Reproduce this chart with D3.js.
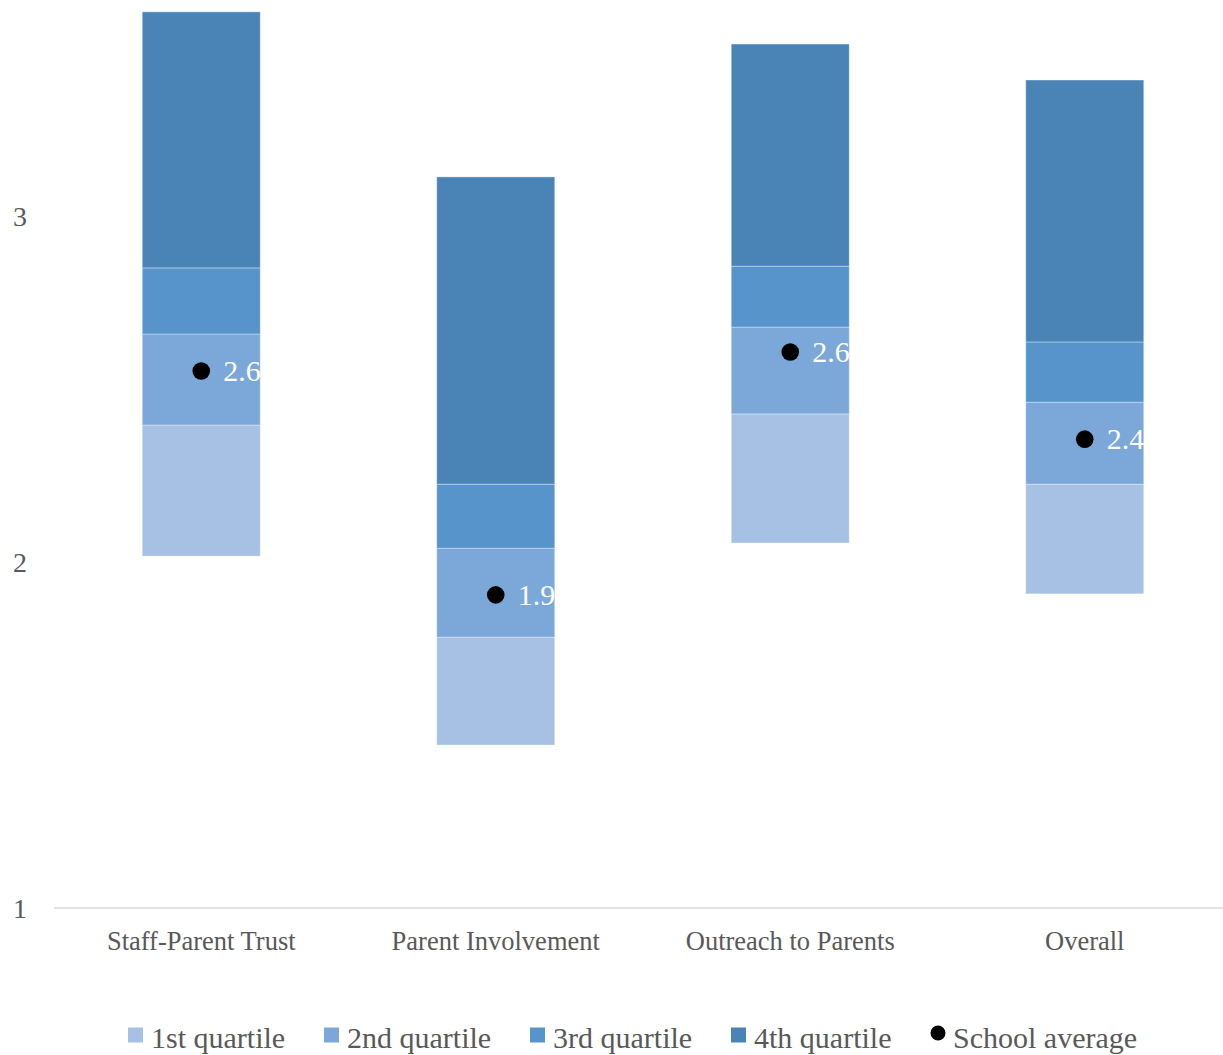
<!DOCTYPE html>
<html>
<head>
<meta charset="utf-8">
<script src="https://cdn.jsdelivr.net/npm/d3@7"></script>
<style>
  body { margin: 0; background: #fff; }
</style>
</head>
<body>
<svg id="chart" width="1223" height="1055" font-family="'Liberation Serif', 'DejaVu Serif', serif"></svg>
<script>
const categories = ["Staff-Parent Trust", "Parent Involvement", "Outreach to Parents", "Overall"];
// bottom of each floating bar (minimum) and the four quartile tops
const minimum = [2.017, 1.471, 2.055, 1.908];
const q1Top = [2.396, 1.783, 2.428, 2.225];
const q2Top = [2.659, 2.040, 2.679, 2.462];
const q3Top = [2.850, 2.225, 2.855, 2.636];
const q4Top = [3.590, 3.113, 3.497, 3.393];
const schoolAvg = [2.552, 1.905, 2.607, 2.355];
const avgLabels = ["2.6", "1.9", "2.6", "2.4"];
const yTicks = [1, 2, 3];
const seriesNames = ["1st quartile", "2nd quartile", "3rd quartile", "4th quartile"];
const colors = ["#a6c1e4", "#7ba8d9", "#5694cb", "#4a84b7"];

const svg = d3.select("#chart");

const x = d3.scaleBand()
  .domain(categories)
  .range([54, 1232]);

const y = d3.scaleLinear()
  .domain([1, 3.6])
  .range([908, 908 - 2.6 * 346]);

const barW = 118;

svg.append("line")
  .attr("x1", 54).attr("x2", 1223)
  .attr("y1", y(1)).attr("y2", y(1))
  .attr("stroke", "#d9d9d9").attr("stroke-width", 1.5);

svg.selectAll(".ytick")
  .data(yTicks)
  .enter().append("text")
  .attr("x", 20)
  .attr("y", d => y(d) + 10)
  .attr("text-anchor", "middle")
  .attr("font-size", 28)
  .attr("fill", "#595959")
  .text(d => d);

svg.selectAll(".xlab")
  .data(categories)
  .enter().append("text")
  .attr("x", d => x(d) + x.bandwidth() / 2)
  .attr("y", 950)
  .attr("text-anchor", "middle")
  .attr("font-size", 26.5)
  .attr("fill", "#595959")
  .text(d => d);

const bounds = [minimum, q1Top, q2Top, q3Top, q4Top];
seriesNames.forEach((name, s) => {
  svg.selectAll(".seg" + s)
    .data(categories)
    .enter().append("rect")
    .attr("x", d => x(d) + x.bandwidth() / 2 - barW / 2)
    .attr("width", barW)
    .attr("y", (d, i) => y(bounds[s + 1][i]))
    .attr("height", (d, i) => y(bounds[s][i]) - y(bounds[s + 1][i]))
    .attr("fill", colors[s])
    .attr("stroke", "rgba(255,255,255,0.35)")
    .attr("stroke-width", 1);
});

svg.selectAll(".dot")
  .data(categories)
  .enter().append("circle")
  .attr("cx", d => x(d) + x.bandwidth() / 2)
  .attr("cy", (d, i) => y(schoolAvg[i]))
  .attr("r", 8.8)
  .attr("fill", "#000");

svg.selectAll(".avglab")
  .data(categories)
  .enter().append("text")
  .attr("x", d => x(d) + x.bandwidth() / 2 + 22)
  .attr("y", (d, i) => y(schoolAvg[i]) + 10)
  .attr("font-size", 30)
  .attr("fill", "#fff")
  .text((d, i) => avgLabels[i]);

const legendX = [128, 324, 530, 731];
const legY = 1035;
seriesNames.forEach((name, s) => {
  svg.append("rect")
    .attr("x", legendX[s]).attr("y", legY - 7.5)
    .attr("width", 15).attr("height", 15)
    .attr("fill", colors[s]);
  svg.append("text")
    .attr("x", legendX[s] + 23).attr("y", 1048)
    .attr("font-size", 30).attr("fill", "#595959")
    .text(name);
});
svg.append("circle")
  .attr("cx", 938).attr("cy", 1033)
  .attr("r", 7.5).attr("fill", "#000");
svg.append("text")
  .attr("x", 953).attr("y", 1048)
  .attr("font-size", 30).attr("fill", "#595959")
  .text("School average");
</script>
</body>
</html>
